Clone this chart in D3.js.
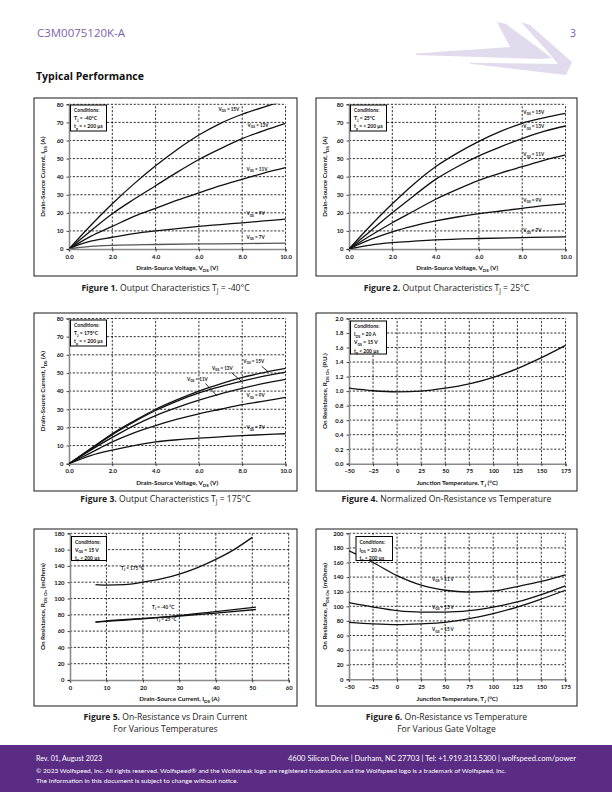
<!DOCTYPE html>
<html><head><meta charset="utf-8">
<script src="https://cdn.jsdelivr.net/npm/d3@7"></script>
<style>body{margin:0;background:#fff}svg{display:block}</style></head>
<body><svg id="c" width="612" height="792"></svg>
<script>
// ---------- DATA ----------
const vdsTicks = [0, 2, 4, 6, 8, 10];
const idsTicks = [0, 10, 20, 30, 40, 50, 60, 70, 80];
const tempTicks = [-50, -25, 0, 25, 50, 75, 100, 125, 150, 175];
const puTicks = [0, 0.2, 0.4, 0.6, 0.8, 1.0, 1.2, 1.4, 1.6, 1.8, 2.0];
const idsCurrTicks = [0, 10, 20, 30, 40, 50, 60];
const rTicks5 = [0, 20, 40, 60, 80, 100, 120, 140, 160, 180];
const rTicks6 = [0, 20, 40, 60, 80, 100, 120, 140, 160, 180, 200];

// Figure 1 (Tj = -40 C)
const f1_15 = [[0,0],[1,13],[2,25],[3,36],[4,46],[5,55],[6,63],[7,69.5],[8,74.5],[9,78.5],[10,82]];
const f1_13 = [[0,0],[1,10],[2,19.5],[3,27.5],[4,35],[5,42.5],[6,49.5],[7,55.5],[8,61],[9,65.5],[10,69.5]];
const f1_11 = [[0,0],[1,7],[2,12.5],[3,18],[4,22.5],[5,27],[6,31],[7,35],[8,38.5],[9,42],[10,45]];
const f1_9  = [[0,0],[0.5,2.5],[1,4.3],[2,6.5],[3,8.5],[4,10],[5,11.3],[6,12.5],[7,13.5],[8,14.5],[9,15.5],[10,16.5]];
const f1_7  = [[0,0],[0.5,0.9],[1,1.4],[2,2],[4,2.5],[6,2.8],[8,3],[10,3.2]];

// Figure 2 (Tj = 25 C)
const f2_15 = [[0,0],[1,13],[2,25],[3,36],[4,45.5],[5,53],[6,59.5],[7,65],[8,69.5],[9,72.5],[10,75]];
const f2_13 = [[0,0],[1,10],[2,20],[3,29.5],[4,38.5],[5,45.5],[6,51.5],[7,56.5],[8,61],[9,65],[10,68]];
const f2_11 = [[0,0],[1,7.5],[2,14.5],[3,21],[4,27.5],[5,33],[6,38],[7,42],[8,45.5],[9,49],[10,52]];
const f2_9  = [[0,0],[0.5,2.8],[1,5.3],[2,9.5],[3,12.8],[4,15.5],[5,17.7],[6,19.5],[7,21],[8,22.5],[9,24],[10,25]];
const f2_7  = [[0,0],[0.5,1.2],[1,2.2],[2,3.5],[3,4.3],[4,5],[6,5.8],[8,6.3],[10,6.7]];

// Figure 3 (Tj = 175 C)
const f3_15 = [[0,0],[1,8.3],[2,16.5],[3,23.5],[4,30],[5,35.3],[6,40],[7,44],[8,47.5],[9,50.2],[10,52.5]];
const f3_13 = [[0,0],[1,8],[2,16],[3,23],[4,29.3],[5,34.5],[6,39],[7,42.5],[8,45.5],[9,48.2],[10,50.5]];
const f3_11 = [[0,0],[1,7.5],[2,14.5],[3,21],[4,26.5],[5,31],[6,35],[7,38.5],[8,41.5],[9,44.2],[10,46.5]];
const f3_9  = [[0,0],[1,6],[2,12],[3,17],[4,21],[5,24.5],[6,27.5],[7,30],[8,32.5],[9,34.5],[10,36.5]];
const f3_7  = [[0,0],[1,4.5],[2,7.5],[3,10],[4,12],[5,13.2],[6,14.1],[7,14.8],[8,15.5],[9,16],[10,16.5]];

// Figure 4 (normalized Rds(on) vs temperature)
const f4_temp = [-50, -25, 0, 25, 50, 75, 100, 125, 150, 175];
const f4_rpu  = [1.04, 1.005, 0.99, 1.0, 1.04, 1.1, 1.19, 1.31, 1.46, 1.63];

// Figure 5 (Rds(on) vs drain current)
const f5_ids  = [7, 10, 15, 20, 25, 30, 35, 40, 45, 50];
const f5_t175 = [117, 116.5, 117, 120, 124, 130, 138, 148, 160, 175];
const f5_ids2 = [7, 10, 20, 30, 40, 51];
const f5_tm40 = [71, 72, 75, 79, 84, 89.5];
const f5_t25  = [71, 72.5, 75.5, 78.5, 82, 86.5];

// Figure 6 (Rds(on) vs temperature, various VGS)
const f6_temp = [-50, -25, 0, 25, 50, 75, 100, 125, 150, 175];
const f6_v11  = [176, 160, 142, 129, 122, 119.5, 121, 127, 134, 143];
const f6_v13  = [105, 99, 94, 92, 92, 94, 99, 106, 116, 128];
const f6_v15  = [78, 76, 75, 76, 78, 83, 90, 99, 110, 122];

// ---------- DRAWING ----------
const svg = d3.select('#c');
const FONT = 'Lato, "Open Sans", sans-serif';

function rich(el, str, size) {
  const re = /_\{([^}]*)\}/g;
  let last = 0, m, pend = 0;
  const sh = size * 0.3;
  while ((m = re.exec(str))) {
    if (m.index > last) { el.append('tspan').attr('dy', pend).text(str.slice(last, m.index)); pend = 0; }
    el.append('tspan').attr('dy', pend + sh).attr('font-size', size * 0.72).text(m[1]);
    pend = -sh;
    last = re.lastIndex;
  }
  if (last < str.length) el.append('tspan').attr('dy', pend).text(str.slice(last));
  return el;
}

function zip(xs, ys) { return xs.map((x, i) => [x, ys[i]]); }

function panel(cfg) {
  const g = svg.append('g');
  g.append('rect').attr('x', cfg.frame[0]).attr('y', cfg.frame[1])
    .attr('width', cfg.frame[2] - cfg.frame[0]).attr('height', cfg.frame[3] - cfg.frame[1])
    .attr('fill', 'none').attr('stroke', '#000').attr('stroke-width', 0.9);
  const x = d3.scaleLinear().domain(cfg.xd).range([cfg.plot[0], cfg.plot[2]]);
  const y = d3.scaleLinear().domain(cfg.yd).range([cfg.plot[3], cfg.plot[1]]);
  const grid = g.append('g').attr('stroke', '#000').attr('stroke-width', 0.8).attr('stroke-dasharray', '2.2,1.6');
  cfg.xt.filter(v => v !== cfg.xd[0]).forEach(v => grid.append('line')
    .attr('x1', x(v)).attr('x2', x(v)).attr('y1', y(cfg.yd[0])).attr('y2', y(cfg.yd[1])));
  cfg.yt.filter(v => v !== cfg.yd[0]).forEach(v => grid.append('line')
    .attr('x1', x(cfg.xd[0])).attr('x2', x(cfg.xd[1])).attr('y1', y(v)).attr('y2', y(v)));
  const ax = d3.axisBottom(x).tickValues(cfg.xt).tickFormat(d3.format(cfg.xf)).tickSize(2.5).tickPadding(3);
  const ay = d3.axisLeft(y).tickValues(cfg.yt).tickFormat(d3.format(cfg.yf)).tickSize(2.5).tickPadding(3);
  const gx = g.append('g').attr('transform', `translate(0,${cfg.plot[3]})`).call(ax);
  const gy = g.append('g').attr('transform', `translate(${cfg.plot[0]},0)`).call(ay);
  [gx, gy].forEach(a => {
    a.select('.domain').attr('stroke', '#8a8a8a').attr('stroke-width', 1.6);
    a.selectAll('.tick line').attr('stroke', '#000').attr('stroke-width', 0.7);
    a.selectAll('text').attr('font-family', FONT).attr('font-weight', 'bold').attr('font-size', 5.9).attr('fill', '#111');
  });
  const cx = (cfg.plot[0] + cfg.plot[2]) / 2, cy = (cfg.plot[1] + cfg.plot[3]) / 2;
  rich(g.append('text').attr('x', cx).attr('y', cfg.xtY).attr('text-anchor', 'middle')
    .attr('font-family', FONT).attr('font-weight', 'bold').attr('font-size', 6.3).attr('fill', '#111'), cfg.xtitle, 6.3);
  rich(g.append('text').attr('transform', `translate(${cfg.ytX},${cy}) rotate(-90)`).attr('text-anchor', 'middle')
    .attr('font-family', FONT).attr('font-weight', 'bold').attr('font-size', 6.3).attr('fill', '#111'), cfg.ytitle, 6.3);
  const cid = 'clip' + cfg.id;
  g.append('clipPath').attr('id', cid).append('rect').attr('x', cfg.plot[0]).attr('y', cfg.plot[1] - 0.5)
    .attr('width', cfg.plot[2] - cfg.plot[0] + 1).attr('height', cfg.plot[3] - cfg.plot[1] + 0.5);
  const line = d3.line().x(d => x(d[0])).y(d => y(d[1])).curve(d3.curveMonotoneX);
  const cg = g.append('g').attr('clip-path', `url(#${cid})`);
  cfg.series.forEach(s => cg.append('path').attr('d', line(s.data)).attr('fill', 'none')
    .attr('stroke', s.color || '#111').attr('stroke-width', s.w || 1.3));
  cfg.labels.forEach(l => {
    rich(g.append('text').attr('x', x(l.at[0])).attr('y', y(l.at[1])).attr('font-family', FONT)
      .attr('font-weight', 'bold').attr('font-size', l.size || 4.6).attr('fill', '#111'), l.text, l.size || 4.6);
    if (l.lead) g.append('line').attr('x1', x(l.lead[0])).attr('y1', y(l.lead[1])).attr('x2', x(l.lead[2])).attr('y2', y(l.lead[3]))
      .attr('stroke', '#111').attr('stroke-width', 0.9);
  });
  const b = cfg.box;
  g.append('rect').attr('x', b.x).attr('y', b.y).attr('width', b.w).attr('height', b.h)
    .attr('fill', '#fff').attr('stroke', '#000').attr('stroke-width', 1);
  b.lines.forEach((t, i) => rich(g.append('text').attr('x', b.x + 3.5).attr('y', b.y + 7 + i * 8.2)
    .attr('font-family', FONT).attr('font-weight', 'bold').attr('font-size', 5).attr('fill', '#111'), t, 5));
  cfg.caption.forEach((c, i) => {
    const t = g.append('text').attr('x', (cfg.frame[0] + cfg.frame[2]) / 2).attr('y', cfg.capY + i * 12)
      .attr('text-anchor', 'middle').attr('font-family', '"Open Sans", Lato, sans-serif').attr('font-size', 8.6).attr('fill', '#222');
    if (i === 0) { t.append('tspan').attr('font-weight', 'bold').text(c[0]); }
    rich(t, i === 0 ? c[1] : c, 8.6);
  });
}

const vds = 'Drain-Source Voltage, V_{DS} (V)';
const ids = 'Drain-Source Current, I_{DS} (A)';
const common = { xd: [0, 10], yd: [0, 80], xt: vdsTicks, yt: idsTicks, xf: '.1f', yf: 'd', xtitle: vds, ytitle: ids };

panel(Object.assign({}, common, {
  id: 1, frame: [34, 98, 297, 276], plot: [69, 104.3, 285.5, 249], xtY: 270, ytX: 45, capY: 290.5,
  series: [{ data: f1_15 }, { data: f1_13 }, { data: f1_11 }, { data: f1_9 }, { data: f1_7, color: '#555' }],
  labels: [{ text: 'V_{GS} = 15V', at: [6.9, 76.5] }, { text: 'V_{GS} = 13V', at: [8.25, 67.5] },
    { text: 'V_{GS} = 11V', at: [8.2, 43.3] }, { text: 'V_{GS} = 9V', at: [8.2, 18.6] }, { text: 'V_{GS} = 7V', at: [8.2, 5.6] }],
  box: { x: 70.5, y: 105, w: 36, h: 26, lines: ['Conditions:', 'T_{J} = -40°C', 't_{p} = < 200 µs'] },
  caption: [['Figure 1.', ' Output Characteristics T_{J} = -40°C']]
}));
panel(Object.assign({}, common, {
  id: 2, frame: [316, 98, 577, 276], plot: [349, 104.3, 565.5, 249], xtY: 270, ytX: 327, capY: 290.5,
  series: [{ data: f2_15 }, { data: f2_13 }, { data: f2_11 }, { data: f2_9 }, { data: f2_7 }],
  labels: [{ text: 'V_{GS} = 15V', at: [8.05, 74.8] }, { text: 'V_{GS} = 13V', at: [8.05, 66.8] },
    { text: 'V_{GS} = 11V', at: [8.05, 51.3] }, { text: 'V_{GS} = 9V', at: [8.05, 26.2] }, { text: 'V_{GS} = 7V', at: [8.05, 9.3] }],
  box: { x: 350.5, y: 105, w: 36, h: 26, lines: ['Conditions:', 'T_{J} = 25°C', 't_{p} = < 200 µs'] },
  caption: [['Figure 2.', ' Output Characteristics T_{J} = 25°C']]
}));
panel(Object.assign({}, common, {
  id: 3, frame: [34, 313, 297, 491], plot: [69, 318.5, 285.5, 463.7], xtY: 485, ytX: 45, capY: 501.5,
  series: [{ data: f3_15 }, { data: f3_13 }, { data: f3_11 }, { data: f3_9 }, { data: f3_7 }],
  labels: [{ text: 'V_{GS} = 15V', at: [8.05, 55.5], lead: [8.9, 53.6, 9.2, 50.7] },
    { text: 'V_{GS} = 13V', at: [6.6, 51.6], lead: [7.5, 50.2, 7.97, 45.4] },
    { text: 'V_{GS} = 11V', at: [5.45, 45.6], lead: [6.3, 44.2, 6.85, 37.2] },
    { text: 'V_{GS} = 9V', at: [8.2, 36.6] }, { text: 'V_{GS} = 7V', at: [8.2, 18.9] }],
  box: { x: 70.5, y: 320, w: 36, h: 26, lines: ['Conditions:', 'T_{J} = 175°C', 't_{p} = < 200 µs'] },
  caption: [['Figure 3.', ' Output Characteristics T_{J} = 175°C']]
}));
panel({
  id: 4, frame: [316, 313, 577, 491], plot: [349, 318.5, 565.5, 463.7], xtY: 485, ytX: 327, capY: 501.5,
  xd: [-50, 175], yd: [0, 2], xt: tempTicks, yt: puTicks, xf: 'd', yf: '.1f',
  xtitle: 'Junction Temperature, T_{J} (°C)', ytitle: 'On Resistance, R_{DS On} (P.U.)',
  series: [{ data: zip(f4_temp, f4_rpu) }],
  labels: [],
  box: { x: 350.5, y: 321, w: 36, h: 33, lines: ['Conditions:', 'I_{DS} = 20 A', 'V_{GS} = 15 V', 't_{p} < 200 µs'] },
  caption: [['Figure 4.', ' Normalized On-Resistance vs Temperature']]
});
panel({
  id: 5, frame: [34, 529, 297, 706], plot: [70, 533.3, 288.7, 680], xtY: 701, ytX: 45, capY: 720,
  xd: [0, 60], yd: [0, 180], xt: idsCurrTicks, yt: rTicks5, xf: 'd', yf: 'd',
  xtitle: 'Drain-Source Current, I_{DS} (A)', ytitle: 'On Resistance, R_{DS On} (mOhms)',
  series: [{ data: zip(f5_ids, f5_t175) }, { data: zip(f5_ids2, f5_tm40) }, { data: zip(f5_ids2, f5_t25) }],
  labels: [{ text: 'T_{J} = 175 °C', at: [14, 135] }, { text: 'T_{J} = -40 °C', at: [22.5, 87.5] },
    { text: 'T_{J} = 25 °C', at: [23.6, 72.5] }],
  box: { x: 71.5, y: 536.5, w: 35, h: 24, lines: ['Conditions:', 'V_{GS} = 15 V', 't_{p} < 200 µs'] },
  caption: [['Figure 5.', ' On-Resistance vs Drain Current'], 'For Various Temperatures']
});
panel({
  id: 6, frame: [316, 529, 577, 706], plot: [349, 533.3, 565.3, 679.3], xtY: 701, ytX: 327, capY: 720,
  xd: [-50, 175], yd: [0, 200], xt: tempTicks, yt: rTicks6, xf: 'd', yf: 'd',
  xtitle: 'Junction Temperature, T_{J} (°C)', ytitle: 'On Resistance, R_{DS On} (mOhms)',
  series: [{ data: zip(f6_temp, f6_v11) }, { data: zip(f6_temp, f6_v13) }, { data: zip(f6_temp, f6_v15) }],
  labels: [{ text: 'V_{GS} = 11 V', at: [36.4, 134.5] }, { text: 'V_{GS} = 13 V', at: [36.4, 96.5] },
    { text: 'V_{GS} = 15 V', at: [36.4, 66] }],
  box: { x: 356, y: 536.5, w: 36.5, h: 24, lines: ['Conditions:', 'I_{DS} = 20 A', 't_{p} < 200 µs'] },
  caption: [['Figure 6.', ' On-Resistance vs Temperature'], 'For Various Gate Voltage']
});

// ---------- PAGE CHROME ----------
svg.append('polygon').attr('points', '416,53.5 510,47 497,22 506,24 552,58 540,59 416,55').attr('fill', '#e2dbee');
svg.append('polygon').attr('points', '521,22 530,25 572,62 566,75 470,63.8 470,62.8 558,64 548,52').attr('fill', '#e2dbee');
svg.append('text').attr('x', 37).attr('y', 37).attr('font-family', '"Open Sans", Lato, sans-serif').attr('font-size', 10.5)
  .attr('fill', '#7d5fae').attr('textLength', 88).attr('lengthAdjust', 'spacingAndGlyphs').text('C3M0075120K-A');
svg.append('text').attr('x', 576).attr('y', 37).attr('text-anchor', 'end').attr('font-family', '"Open Sans", Lato, sans-serif')
  .attr('font-size', 10.5).attr('fill', '#7d5fae').text('3');
svg.append('text').attr('x', 36).attr('y', 80).attr('font-family', '"Open Sans", Lato, sans-serif').attr('font-size', 10.5)
  .attr('font-weight', 'bold').attr('fill', '#111').attr('textLength', 108).attr('lengthAdjust', 'spacingAndGlyphs').text('Typical Performance');

svg.append('rect').attr('x', 0).attr('y', 745).attr('width', 612).attr('height', 47).attr('fill', '#5a2c84');
const ft = (x, y, s, t, len, anchor) => svg.append('text').attr('x', x).attr('y', y).attr('font-size', s)
  .attr('font-family', 'Lato, "Open Sans", sans-serif').attr('fill', '#fff').attr('text-anchor', anchor || 'start')
  .attr('textLength', len).attr('lengthAdjust', 'spacingAndGlyphs').text(t);
ft(36, 761, 7, 'Rev. 01, August 2023', 66);
ft(576, 761, 7, '4600 Silicon Drive  |  Durham, NC 27703  |  Tel: +1.919.313.5300  |  wolfspeed.com/power', 288, 'end');
ft(36, 773, 5.8, '© 2023 Wolfspeed, Inc. All rights reserved. Wolfspeed® and the Wolfstreak logo are registered trademarks and the Wolfspeed logo is a trademark of Wolfspeed, Inc.', 470);
ft(36, 782.5, 5.8, 'The information in this document is subject to change without notice.', 202);
</script></body></html>
